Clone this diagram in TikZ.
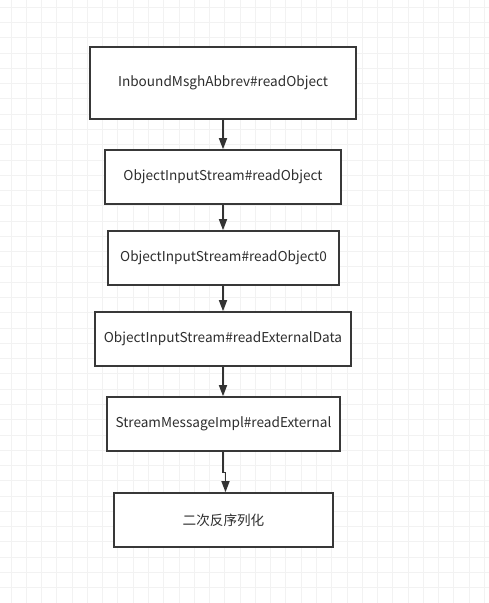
\documentclass[tikz,border=0pt]{standalone}
\usepackage{fontspec}
\setmainfont{Noto Sans CJK SC}
\usetikzlibrary{arrows.meta}
\begin{document}
\begin{tikzpicture}[x=1pt,y=-1pt,
  gridline/.style={draw=black!5,line width=1pt},
  stepbox/.style={draw=black!78,line width=1.6pt,fill=white,inner sep=0pt,
    font=\fontsize{13.6}{15}\selectfont,text=black!82},
  flow/.style={draw=black!80,line width=1.6pt,-{Triangle[length=11pt,width=8pt]}}]
\useasboundingbox (0,0) rectangle (489,603);
\fill[white] (0,0) rectangle (489,603);
\foreach \i in {0,...,31} {\draw[gridline] ({11+15.275*\i},0) -- ({11+15.275*\i},603);}
\foreach \j in {0,...,39} {\draw[gridline] (0,{7.3+15.275*\j}) -- (489,{7.3+15.275*\j});}
\node[stepbox,minimum width=266pt,minimum height=72pt] (b1) at (223,83) {InboundMsghAbbrev\#readObject};
\node[stepbox,minimum width=236pt,minimum height=54pt] (b2) at (223,177) {ObjectInputStream\#readObject};
\node[stepbox,minimum width=231pt,minimum height=54pt] (b3) at (223.5,258) {ObjectInputStream\#readObject0};
\node[stepbox,minimum width=256pt,minimum height=54pt] (b4) at (223,339) {ObjectInputStream\#readExternalData};
\node[stepbox,minimum width=233pt,minimum height=54pt] (b5) at (223.5,424) {StreamMessageImpl\#readExternal};
\node[stepbox,minimum width=219pt,minimum height=54pt] (b6) at (223.5,520) {二次反序列化};
\coordinate (j1) at (223,472.5);
\coordinate (j2) at (225.5,472.5);
\draw[flow] (b1.south -| 223,0) -- (b2.north -| 223,0);
\draw[flow] (b2.south -| 223,0) -- (b3.north -| 223,0);
\draw[flow] (b3.south -| 223,0) -- (b4.north -| 223,0);
\draw[flow] (b4.south -| 223,0) -- (b5.north -| 223,0);
\draw[flow] (b5.south -| j1) -- (j1) -- (j2) -- (b6.north -| j2);
\end{tikzpicture}
\end{document}
